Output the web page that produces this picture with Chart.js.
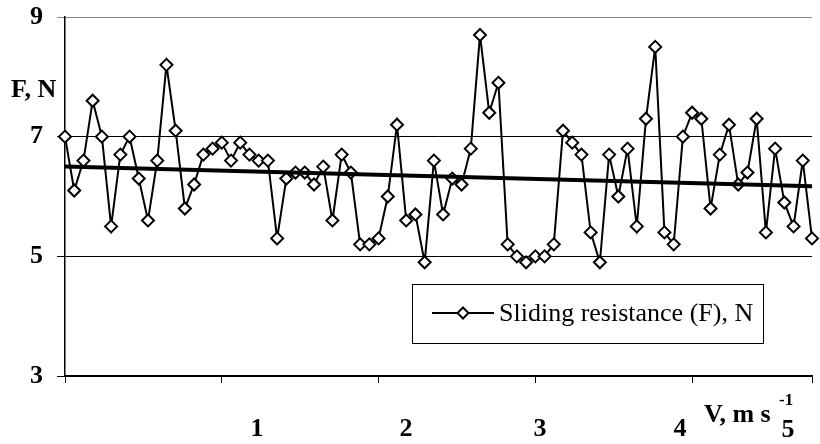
<!DOCTYPE html>
<html lang="en">
<head>
    <meta charset="UTF-8">
    <title>Sliding resistance vs speed</title>
    <script src="https://cdn.jsdelivr.net/npm/chart.js"></script>
    <style>
        html, body { margin: 0; padding: 0; background: #fff; }
        #wrap { width: 820px; height: 444px; }
    </style>
</head>
<body>
    <div id="wrap"><canvas id="forceChart"></canvas></div>

    <script>
        // Sliding resistance (F), N, one reading per sample
        const forceValues = [
            7.0, 6.1, 6.6, 7.6, 7.0, 5.5, 6.7, 7.0, 6.3, 5.6,
            6.6, 8.2, 7.1, 5.8, 6.2, 6.7, 6.8, 6.9, 6.6, 6.9,
            6.7, 6.6, 6.6, 5.3, 6.3, 6.4, 6.4, 6.2, 6.5, 5.6,
            6.7, 6.4, 5.2, 5.2, 5.3, 6.0, 7.2, 5.6, 5.7, 4.9,
            6.6, 5.7, 6.3, 6.2, 6.8, 8.7, 7.4, 7.9, 5.2, 5.0,
            4.9, 5.0, 5.0, 5.2, 7.1, 6.9, 6.7, 5.4, 4.9, 6.7,
            6.0, 6.8, 5.5, 7.3, 8.5, 5.4, 5.2, 7.0, 7.4, 7.3,
            5.8, 6.7, 7.2, 6.2, 6.4, 7.3, 5.4, 6.8, 5.9, 5.5,
            6.6, 5.3
        ];
        // linear trend, read at the first and last sample
        const trendX = [0, 81];
        const trendValues = [6.5, 6.17];

        const yTicks = [3, 5, 7, 9];
        const speedLabels = ['1', '2', '3', '4', '5'];
        const seriesName = 'Sliding resistance (F), N';

        const serif = "'Liberation Serif', 'Times New Roman', serif";

        // extra text: axis titles, speed labels and the boxed legend
        const annotations = {
            id: 'annotations',
            afterDraw(chart) {
                const ctx = chart.ctx;
                ctx.save();
                ctx.fillStyle = '#000';
                ctx.textBaseline = 'alphabetic';

                ctx.font = 'bold 26px ' + serif;
                ctx.textAlign = 'left';
                ctx.fillText('F, N', 11, 97);

                // speed labels under the axis
                const labelX = [257, 406, 540, 680, 788];
                ctx.textAlign = 'center';
                speedLabels.forEach((t, i) => {
                    ctx.fillText(t, labelX[i], i === 4 ? 437 : 436);
                });
                ctx.textAlign = 'left';
                ctx.fillText('V, m s', 704, 422);
                ctx.font = 'bold 17px ' + serif;
                ctx.fillText('-1', 779, 405);

                // legend box
                ctx.fillStyle = '#fff';
                ctx.fillRect(412, 284, 351, 59);
                ctx.strokeStyle = '#000';
                ctx.lineWidth = 1;
                ctx.strokeRect(412.5, 284.5, 351, 59);

                ctx.lineWidth = 2;
                ctx.beginPath();
                ctx.moveTo(432, 313);
                ctx.lineTo(494, 313);
                ctx.stroke();
                ctx.beginPath();
                ctx.moveTo(463, 307.5);
                ctx.lineTo(468.5, 313);
                ctx.lineTo(463, 318.5);
                ctx.lineTo(457.5, 313);
                ctx.closePath();
                ctx.fillStyle = '#fff';
                ctx.fill();
                ctx.stroke();

                ctx.fillStyle = '#000';
                ctx.font = '26px ' + serif;
                ctx.fillText(seriesName, 499, 321);
                ctx.restore();
            }
        };

        const ctx = document.getElementById('forceChart').getContext('2d');
        new Chart(ctx, {
            type: 'line',
            data: {
                datasets: [{
                    label: 'Trend',
                    data: trendX.map((x, i) => ({ x: x, y: trendValues[i] })),
                    borderColor: '#000',
                    borderWidth: 4,
                    pointRadius: 0,
                    fill: false,
                    order: 0
                }, {
                    label: seriesName,
                    data: forceValues.map((v, i) => ({ x: i, y: v })),
                    borderColor: '#000',
                    borderWidth: 2,
                    pointStyle: 'rectRot',
                    pointRadius: 6,
                    pointBorderWidth: 2,
                    pointBackgroundColor: '#fff',
                    pointBorderColor: '#000',
                    tension: 0,
                    fill: false,
                    clip: false,
                    order: 1
                }]
            },
            options: {
                responsive: true,
                maintainAspectRatio: false,
                animation: false,
                layout: { padding: { top: 17, right: 0, left: 0, bottom: 0 } },
                plugins: {
                    legend: { display: false },
                    tooltip: { enabled: false }
                },
                scales: {
                    x: {
                        type: 'linear',
                        min: 0,
                        max: 81,
                        afterFit: s => {
                            s.height = 68;
                            s.paddingLeft = 0;
                            s.paddingRight = 0;
                        },
                        ticks: { display: false, stepSize: 17 },
                        grid: {
                            drawOnChartArea: false,
                            drawTicks: true,
                            tickLength: 7,
                            color: '#000'
                        },
                        border: { color: '#000', width: 1.5 }
                    },
                    y: {
                        min: 3,
                        max: 9,
                        afterFit: s => {
                            s.width = 65;
                            s.paddingTop = 0;
                            s.paddingBottom = 0;
                        },
                        afterBuildTicks: s => { s.ticks = yTicks.map(v => ({ value: v })); },
                        ticks: {
                            color: '#000',
                            padding: 14,
                            font: { family: serif, size: 26, weight: 'bold' }
                        },
                        grid: {
                            color: c => (c.tick && c.tick.value === 9) ? '#888' : '#000',
                            lineWidth: 1,
                            tickLength: 8
                        },
                        border: { color: '#000', width: 1.5 }
                    }
                }
            },
            plugins: [annotations]
        });
    </script>
</body>
</html>
